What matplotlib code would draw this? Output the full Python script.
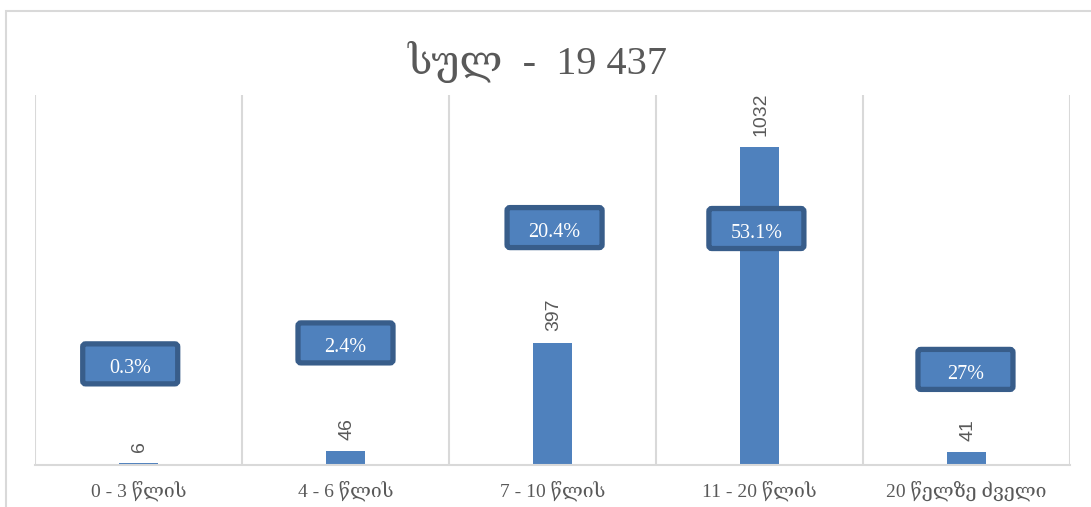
import matplotlib
matplotlib.use("Agg")
import matplotlib.pyplot as plt
from matplotlib import transforms
from matplotlib.patches import FancyBboxPatch, Rectangle

# data
categories = ["0 - 3 წლის", "4 - 6 წლის", "7 - 10 წლის", "11 - 20 წლის", "20 წელზე ძველი"]
counts = [6, 46, 397, 1032, 41]
pct_labels = ["0.3%", "2.4%", "20.4%", "53.1%", "27%"]
pct_label_y = [328, 396, 770, 767, 310]
pct_label_dx = [-0.04, 0.0, 0.01, -0.015, -0.005]
title = "სულ  -  19 437"

serif = ["Liberation Serif", "DejaVu Serif", "DejaVu Sans"]
bar_color = "#4F81BD"
edge_color = "#385D8A"
grid_color = "#D9D9D9"
text_color = "#595959"

fig = plt.figure(figsize=(10.91, 5.07), dpi=100)
fig.patch.set_facecolor("white")
ax = fig.add_axes([35 / 1091, 42 / 507, 1035 / 1091, 370 / 507])

x = list(range(len(categories)))
ax.bar(x, counts, width=0.19, color=bar_color, zorder=2)
ax.set_xlim(-0.5, len(categories) - 0.5)
ax.set_ylim(0, 1200)

# category separators
for b in range(len(categories) + 1):
    ax.axvline(b - 0.5, color=grid_color, lw=1.5, zorder=1)

for s in ["top", "left", "right"]:
    ax.spines[s].set_visible(False)
ax.spines["bottom"].set_color(grid_color)
ax.spines["bottom"].set_linewidth(1.5)
ax.set_yticks([])
ax.set_xticks(x)
ax.set_xticklabels(categories, family=serif, fontsize=14, color=text_color)
ax.tick_params(axis="x", length=0, pad=11)

# value labels above bars
for xi, v in zip(x, counts):
    ax.annotate(str(v), (xi, v), xytext=(1, 8), textcoords="offset points",
                rotation=90, ha="center", va="bottom", fontsize=14,
                family="Liberation Sans", color=text_color)

# percentage call-out boxes (fixed size, centred on a data point)
bw, bh = 0.95, 0.40
for xi, dx, yv, lab in zip(x, pct_label_dx, pct_label_y, pct_labels):
    tr = fig.dpi_scale_trans + transforms.ScaledTranslation(xi + dx, yv, ax.transData)
    box = FancyBboxPatch((-bw / 2, -bh / 2), bw, bh,
                         boxstyle="round,pad=0,rounding_size=0.03",
                         fc=bar_color, ec=edge_color, lw=3.8,
                         transform=tr, zorder=4, clip_on=False)
    ax.add_patch(box)
    ax.text(0, -0.05, lab, transform=tr, ha="center", va="center",
            fontsize=14.5, family=serif, color="white", zorder=5)

fig.text(538 / 1091, 1 - 62 / 507, title, ha="center", va="center",
         fontsize=29, family=serif, color=text_color)

# outer chart frame
fig.add_artist(Rectangle((6 / 1091, -0.05), 1.2, 1.05 - 11 / 507,
                         transform=fig.transFigure, fill=False,
                         ec=grid_color, lw=1.5))

fig.savefig("out.png", dpi=100, facecolor="white")
